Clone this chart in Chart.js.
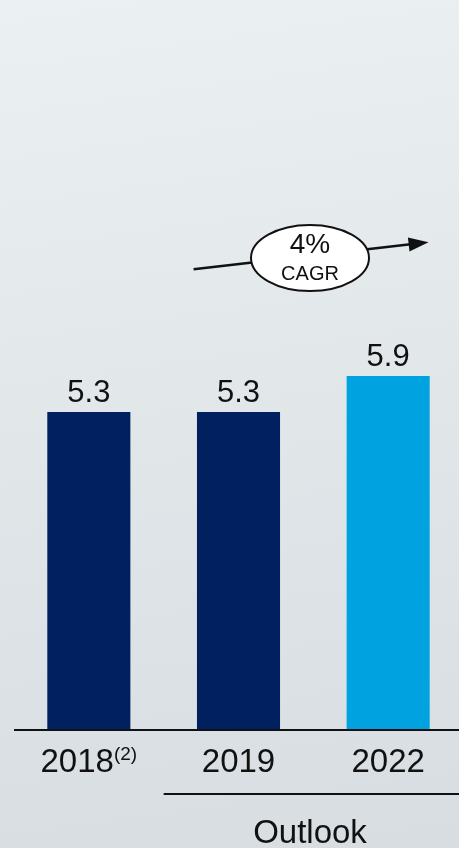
<!DOCTYPE html>
<html>
<head>
<meta charset="utf-8">
<script src="https://cdn.jsdelivr.net/npm/chart.js@4.4.1/dist/chart.umd.min.js"></script>
<style>
  html, body { margin: 0; padding: 0; overflow: hidden; }
  body {
    width: 459px; height: 848px;
    background: linear-gradient(172deg, #ebf0f2 0%, #e2e7ea 45%, #d7dde1 100%);
  }
  #wrap { width: 463px; height: 848px; }
</style>
</head>
<body>
<div id="wrap"><canvas id="chart"></canvas></div>
<script>
// data
const years = ['2018', '2019', '2022'];
const yearNotes = ['(2)', '', ''];
const values = [5.3, 5.3, 5.9];
const barColors = ['#002060', '#002060', '#00a3e0'];
const cagrText = ['4%', 'CAGR'];
const outlookLabel = 'Outlook';

const FONT = '"Liberation Sans", Arial, sans-serif';

// labels, axis line, CAGR arrow and outlook bracket
const extras = {
  id: 'extras',
  afterDatasetsDraw(chart) {
    const ctx = chart.ctx;
    const x = chart.scales.x, y = chart.scales.y;
    const area = chart.chartArea;
    const base = y.getPixelForValue(0);
    ctx.save();

    // baseline
    ctx.strokeStyle = '#111';
    ctx.lineWidth = 2;
    ctx.beginPath();
    ctx.moveTo(area.left, base);
    ctx.lineTo(area.right, base);
    ctx.stroke();

    // value labels
    ctx.fillStyle = '#111';
    ctx.textAlign = 'center';
    ctx.textBaseline = 'alphabetic';
    ctx.font = '31px ' + FONT;
    chart.getDatasetMeta(0).data.forEach((bar, i) => {
      ctx.fillText(values[i].toFixed(1), bar.x, bar.y - 10);
    });

    // category labels (with superscript note)
    years.forEach((yr, i) => {
      const cx = x.getPixelForValue(i);
      ctx.font = '33px ' + FONT;
      const w1 = ctx.measureText(yr).width;
      ctx.font = '19px ' + FONT;
      const w2 = yearNotes[i] ? ctx.measureText(yearNotes[i]).width : 0;
      const left = cx - (w1 + w2) / 2;
      ctx.textAlign = 'left';
      ctx.font = '33px ' + FONT;
      ctx.fillText(yr, left, 772);
      if (yearNotes[i]) {
        ctx.font = '19px ' + FONT;
        ctx.fillText(yearNotes[i], left + w1, 760);
      }
    });

    // outlook bracket
    const ox = x.getPixelForValue(0.5);
    ctx.lineWidth = 2;
    ctx.beginPath();
    ctx.moveTo(ox, 794);
    ctx.lineTo(area.right, 794);
    ctx.stroke();
    ctx.textAlign = 'center';
    ctx.font = '33px ' + FONT;
    ctx.fillText(outlookLabel, 310, 843);

    // CAGR arrow
    const x0 = x.getPixelForValue(0.7), y0 = y.getPixelForValue(7.68);
    const x1 = x.getPixelForValue(2.27), y1 = y.getPixelForValue(8.13);
    ctx.lineWidth = 2.5;
    ctx.beginPath();
    ctx.moveTo(x0, y0);
    ctx.lineTo(x1 - 18, y1 + 2.1);
    ctx.stroke();
    const ang = Math.atan2(y1 - y0, x1 - x0);
    ctx.beginPath();
    ctx.moveTo(x1, y1);
    ctx.lineTo(x1 - 20 * Math.cos(ang) + 7 * Math.sin(ang), y1 - 20 * Math.sin(ang) - 7 * Math.cos(ang));
    ctx.lineTo(x1 - 20 * Math.cos(ang) - 7 * Math.sin(ang), y1 - 20 * Math.sin(ang) + 7 * Math.cos(ang));
    ctx.closePath();
    ctx.fill();

    // ellipse
    ctx.beginPath();
    ctx.ellipse(310, 258, 59, 33, 0, 0, Math.PI * 2);
    ctx.fillStyle = '#ffffff';
    ctx.fill();
    ctx.lineWidth = 2;
    ctx.stroke();
    ctx.fillStyle = '#111';
    ctx.font = '28px ' + FONT;
    ctx.fillText(cagrText[0], 310, 253);
    ctx.font = '20px ' + FONT;
    ctx.fillText(cagrText[1], 310, 280);

    ctx.restore();
  }
};

new Chart(document.getElementById('chart'), {
  type: 'bar',
  data: {
    labels: years,
    datasets: [{
      data: values,
      backgroundColor: barColors,
      borderWidth: 0,
      barPercentage: 0.555,
      categoryPercentage: 1
    }]
  },
  options: {
    responsive: true,
    maintainAspectRatio: false,
    animation: false,
    layout: { padding: { left: 14, right: 0, top: 0, bottom: 118 } },
    plugins: { legend: { display: false }, tooltip: { enabled: false } },
    scales: {
      x: { display: false },
      y: { display: false, min: 0, max: 730 / 60 }
    }
  },
  plugins: [extras]
});
</script>
</body>
</html>
